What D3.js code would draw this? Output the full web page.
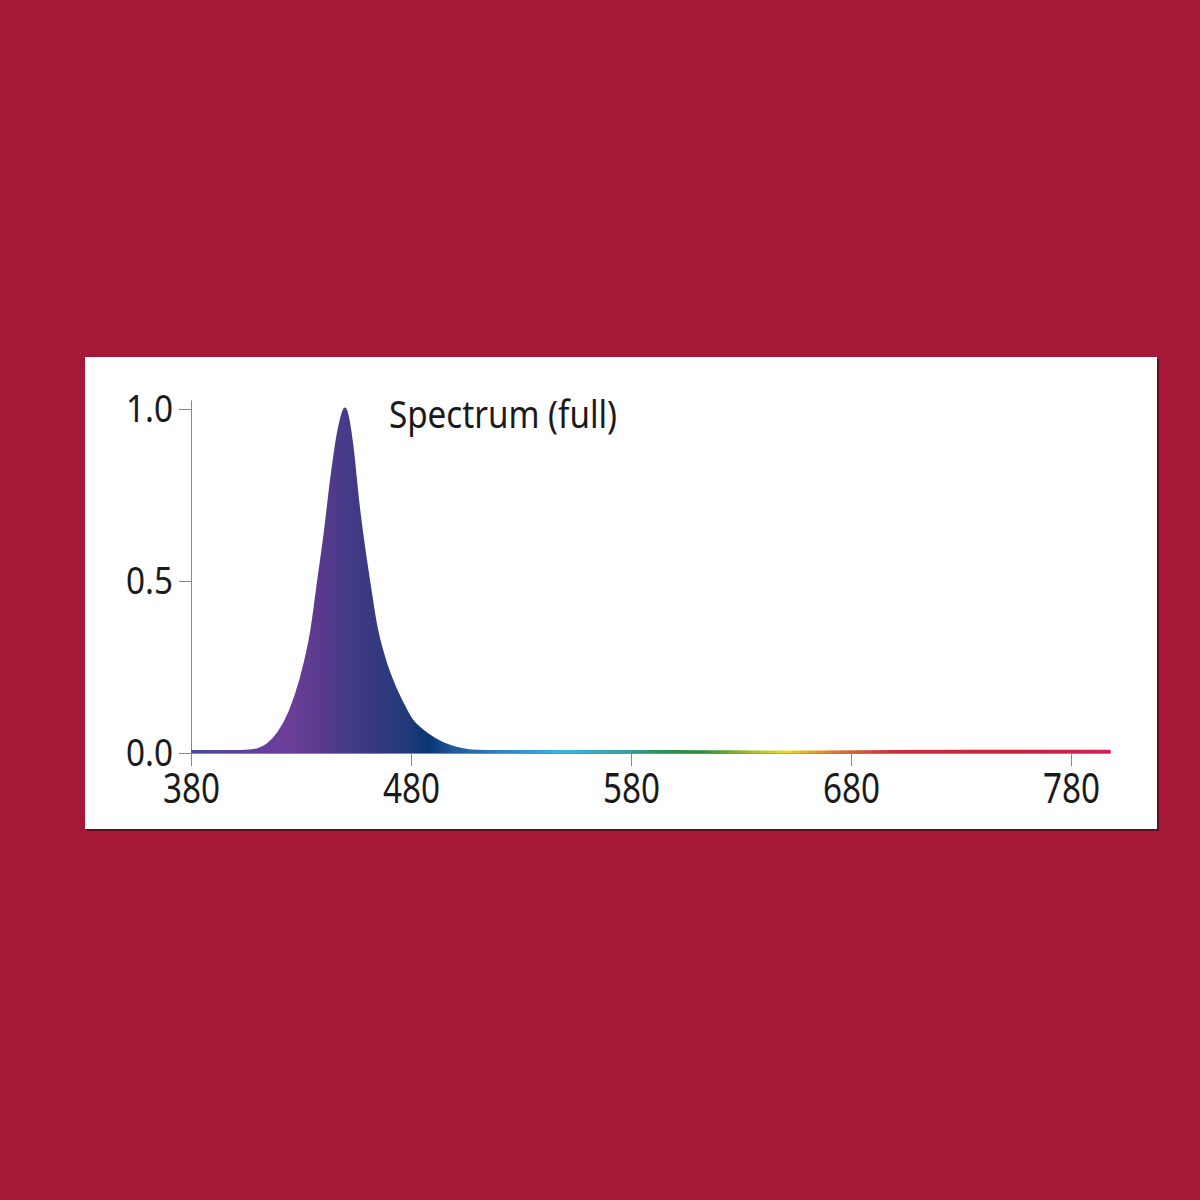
<!DOCTYPE html>
<html>
<head>
<meta charset="utf-8">
<script src="https://cdn.jsdelivr.net/npm/d3@7"></script>
<style>
  html, body { margin: 0; padding: 0; background: #a51837; }
  svg { display: block; }
  .axis text { font-family: 'Noto Sans', 'Open Sans', sans-serif; fill: #1a1a1a; }
</style>
</head>
<body>
<svg id="chart" width="1200" height="1200"></svg>
<script>
// spectrum samples (nm, relative intensity)
const wavelengths = [380, 400, 405, 410, 415, 420, 425, 430, 435, 438, 441, 444, 447, 449, 450, 451, 453, 456, 458, 461, 464, 468, 472, 476, 480, 485, 490, 495, 500, 505, 510, 520, 550, 600, 650, 700, 750, 798]
const intensity = [0.004, 0.004, 0.005, 0.009, 0.025, 0.06, 0.12, 0.215, 0.36, 0.5, 0.64, 0.8, 0.93, 0.985, 1.0, 0.98, 0.9, 0.72, 0.62, 0.49, 0.37, 0.27, 0.2, 0.145, 0.098, 0.066, 0.043, 0.026, 0.015, 0.008, 0.005, 0.004, 0.004, 0.004, 0.003, 0.004, 0.005, 0.005]

const xTicks = [380, 480, 580, 680, 780]
const yTicks = [0, 0.5, 1.0]
const title = 'Spectrum (full)'

// colour ramp along wavelength
const stopNm = [380, 415, 425, 440, 450, 465, 478, 488, 500, 520, 548, 575, 595, 612, 635, 650, 672, 700, 760, 798]
const stopColor = ['#4b4aa0', '#683d9c', '#6b3f98', '#573a8d', '#473a88', '#34397f', '#203a7a', '#0b3472', '#1f5c9e', '#2f80c2', '#3ab4e4', '#38a2aa', '#2a9050', '#2a8a38', '#a8c030', '#ecdc20', '#d87a2c', '#cc2a3c', '#c82040', '#d42058']

const svg = d3.select('#chart')

// white panel with a thin dark edge
svg.append('rect')
  .attr('x', 87).attr('y', 359)
  .attr('width', 1072).attr('height', 472)
  .attr('fill', '#5e0f22')
svg.append('rect')
  .attr('x', 85).attr('y', 357)
  .attr('width', 1072).attr('height', 472)
  .attr('fill', '#ffffff')

const x = d3.scaleLinear().domain([380, 780]).range([191, 1071])
const y = d3.scaleLinear().domain([0, 1]).range([753, 409])

const grad = svg.append('defs').append('linearGradient')
  .attr('id', 'spec')
  .attr('gradientUnits', 'userSpaceOnUse')
  .attr('x1', x(380)).attr('y1', 0)
  .attr('x2', x(798)).attr('y2', 0)
grad.selectAll('stop')
  .data(stopNm)
  .join('stop')
  .attr('offset', d => (d - 380) / (798 - 380))
  .attr('stop-color', (d, i) => stopColor[i])

const pts = wavelengths.map((w, i) => [w, intensity[i]])

const area = d3.area()
  .x(d => x(d[0]))
  .y0(y(0))
  .y1(d => y(d[1]))
  .curve(d3.curveMonotoneX)

const line = d3.line()
  .x(d => x(d[0]))
  .y(d => y(d[1]))
  .curve(d3.curveMonotoneX)

// axes
const xAxis = svg.append('g')
  .attr('class', 'axis')
  .attr('transform', `translate(0,${y(0)})`)
  .call(d3.axisBottom(x).tickValues(xTicks).tickSize(13).tickPadding(7).tickFormat(d3.format('d')))
xAxis.select('.domain').attr('d', `M${x(380)},0.5H${x(798)}`).attr('stroke', '#888')
xAxis.selectAll('.tick line').attr('stroke', '#888')
xAxis.selectAll('text')
  .attr('font-size', 41)
  .attr('dy', '0.72em')
  .attr('textLength', 57)
  .attr('lengthAdjust', 'spacingAndGlyphs')

const yAxis = svg.append('g')
  .attr('class', 'axis')
  .attr('transform', `translate(${x(380)},0)`)
  .call(d3.axisLeft(y).tickValues(yTicks).tickSize(12).tickPadding(6).tickFormat(d3.format('.1f')))
yAxis.select('.domain').attr('d', `M0.5,${y(1.025)}V${y(0)}`).attr('stroke', '#888')
yAxis.selectAll('.tick line').attr('stroke', '#888')
yAxis.selectAll('text')
  .attr('font-size', 39)
  .attr('dy', '0.33em')
  .attr('textLength', 47)
  .attr('lengthAdjust', 'spacingAndGlyphs')

// spectrum
svg.append('path')
  .datum(pts)
  .attr('d', area)
  .attr('fill', 'url(#spec)')
svg.append('path')
  .datum(pts)
  .attr('d', line)
  .attr('fill', 'none')
  .attr('stroke', 'url(#spec)')
  .attr('stroke-width', 3)

svg.append('text')
  .attr('x', 389).attr('y', 428)
  .attr('font-family', "'Noto Sans', 'Open Sans', sans-serif")
  .attr('font-size', 38)
  .attr('fill', '#1a1a1a')
  .attr('textLength', 228)
  .attr('lengthAdjust', 'spacingAndGlyphs')
  .text(title)
</script>
</body>
</html>
